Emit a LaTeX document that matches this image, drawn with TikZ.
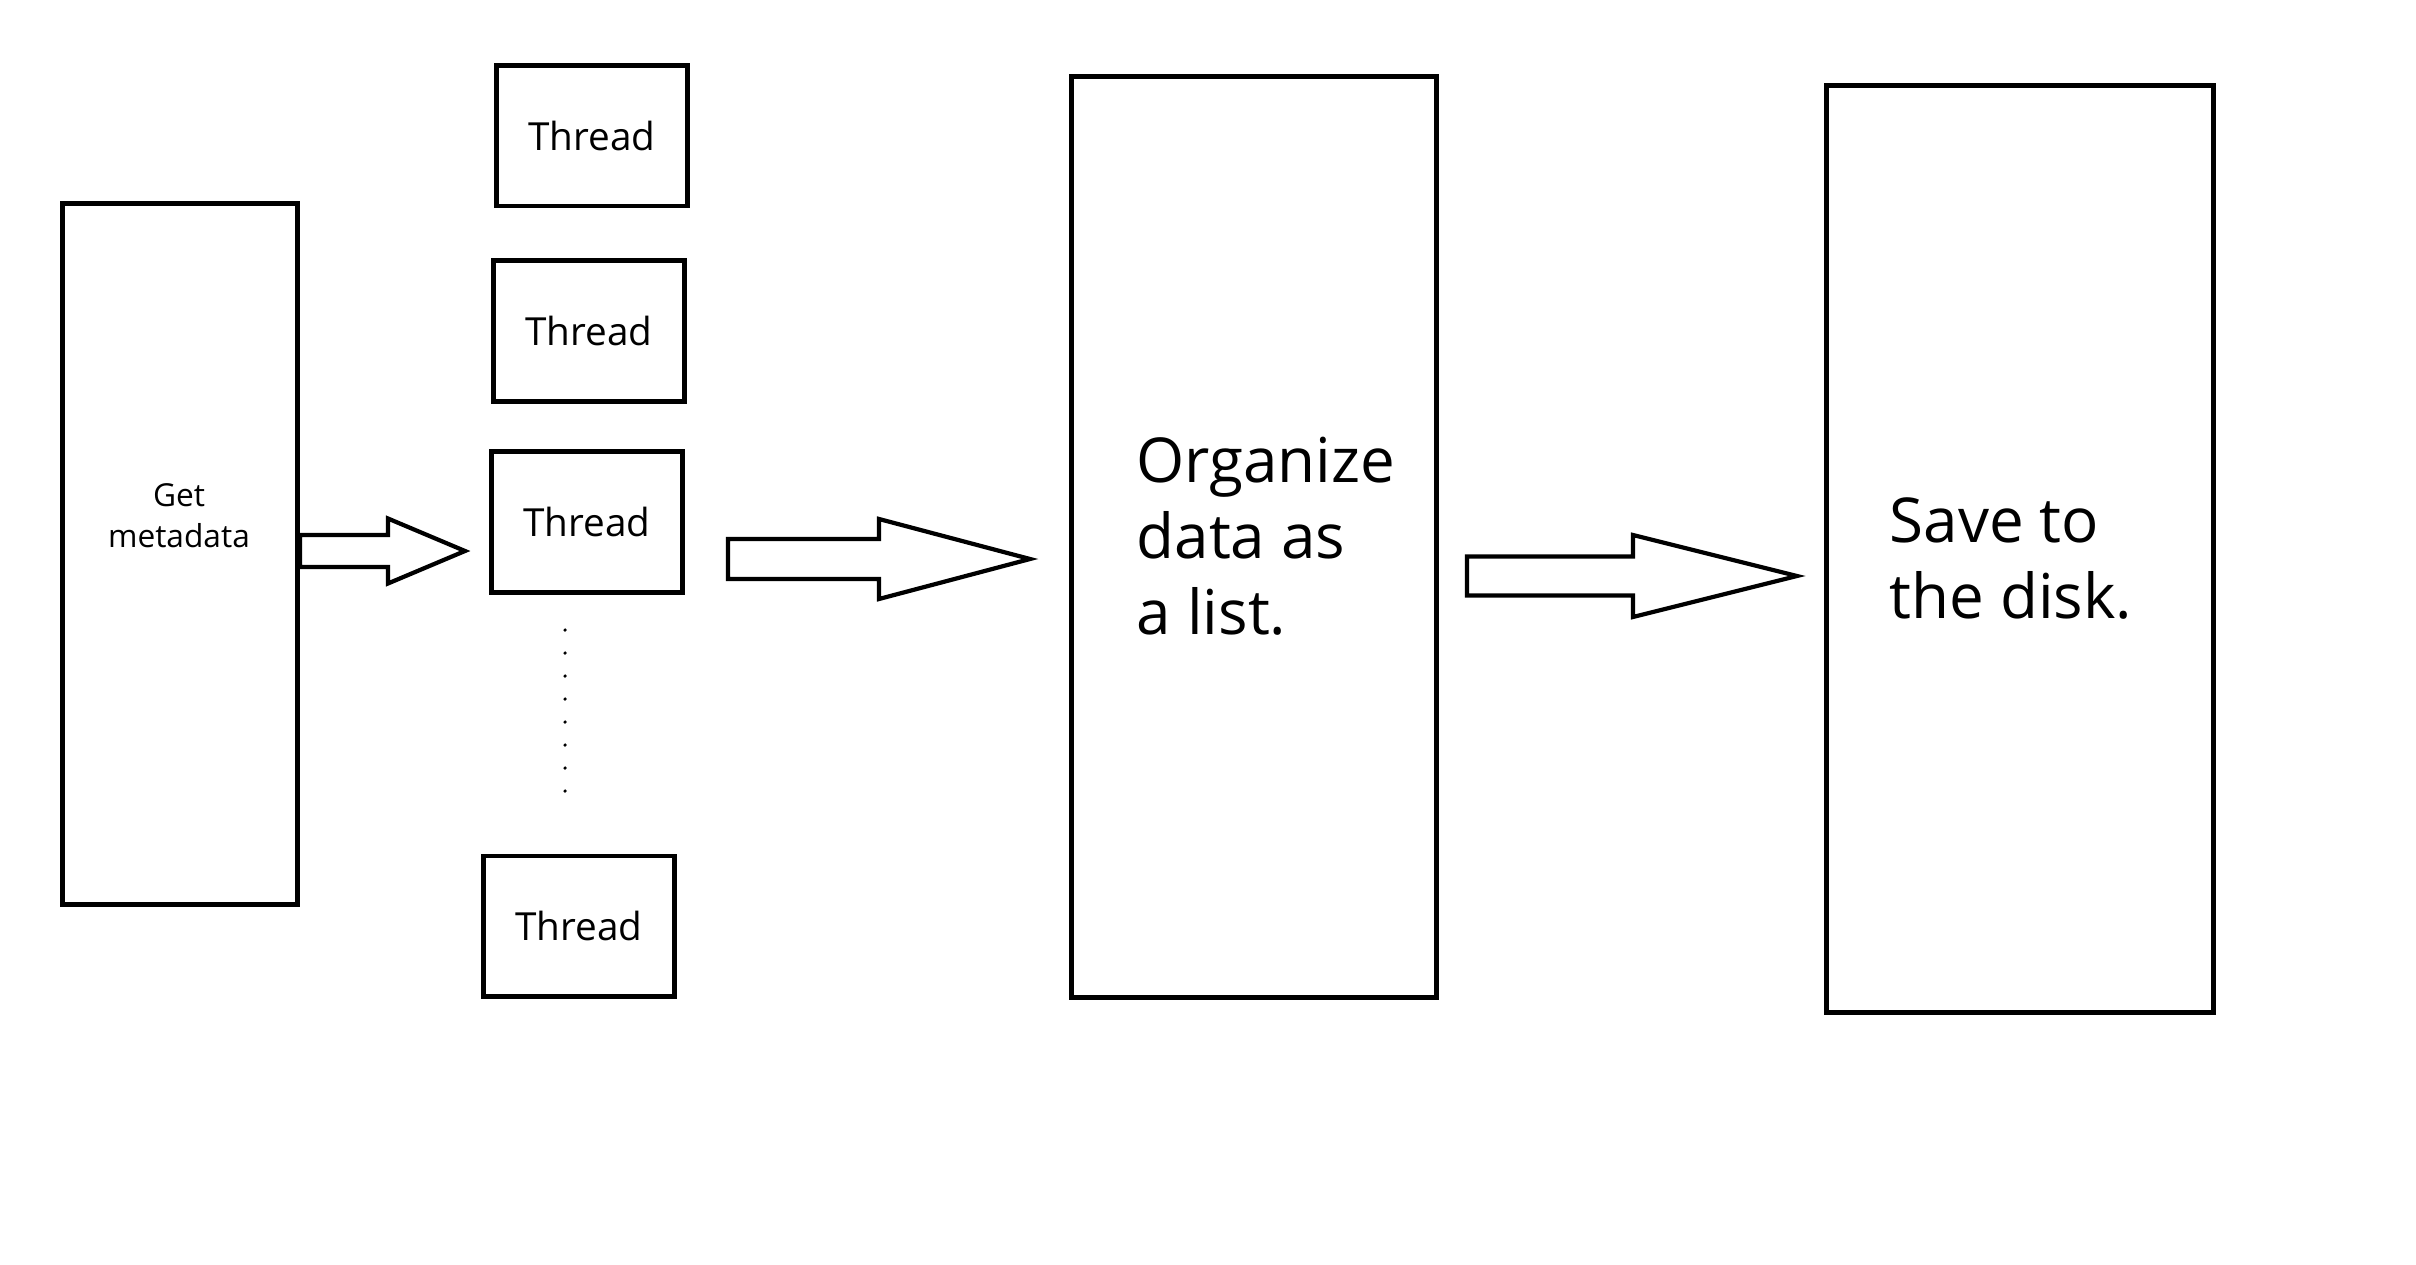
\documentclass[tikz,border=0pt]{standalone}
\usepackage{fontspec}
\setmainfont{Open Sans}
\usetikzlibrary{calc}

\tikzstyle{boxed}=[draw=black, line width=1.4pt, inner sep=0pt]
\tikzstyle{thread}=[boxed, minimum width=1.91cm, minimum height=1.40cm, font=\fontsize{11pt}{13pt}\selectfont]
\tikzstyle{bigtext}=[inner sep=0pt, align=left, font=\fontsize{17.6pt}{21.6pt}\selectfont]
\tikzstyle{fat}=[draw=black, fill=white, line width=1.2pt, line join=miter]
\newcommand{\fatarrow}[5]{
	\coordinate (mid) at ($(#1)!#3!(#2)$);
	\draw[fat]
	($(#1)	+ (0,-#4)$) --
	($(mid)	+ (0,-#4)$) --
	($(mid)	+ (0,-#5)$) --
	(#2) --
	($(mid)	+ (0,#5)$) --
	($(mid)	+ (0,#4)$) --
	($(#1)	+ (0,#4)$) -- cycle;
}

\begin{document}
\begin{tikzpicture}[x=0.01cm, y=-0.01cm]
\useasboundingbox (0,0) rectangle (2416,1264);

\node[boxed, minimum width=2.355cm, minimum height=7.01cm] (meta) at (180,554) {};
\node[inner sep=0pt, align=center, anchor=base, font=\fontsize{9pt}{11.4pt}\selectfont] (metatext) at (179,547) {Get\\metadata};

\foreach \n/\x/\y in {1/592/136, 2/589/331, 3/587/522, 4/579/926} {
	\node[thread] (thread\n) at (\x,\y) {Thread};
}
\foreach \i in {0,...,7} {
	\fill (565,{630 + 23*\i}) circle (0.5pt);
}

\node[boxed, minimum width=3.64cm, minimum height=9.20cm] (organize) at (1254,537) {};
\node[bigtext, anchor=base west] (organizetext) at (1136,634) {Organize\\data as\\a list.};

\node[boxed, minimum width=3.86cm, minimum height=9.26cm] (save) at (2020,549) {};
\node[bigtext, anchor=base west] (savetext) at (1889,618) {Save to\\the disk.};

\coordinate (a1s) at (300,551);
\coordinate (a1t) at (465,551);
\coordinate (a2s) at (728,559);
\coordinate (a2t) at (1030,559);
\coordinate (a3s) at (1467,576);
\coordinate (a3t) at (1797,576);
\fatarrow{a1s}{a1t}{0.533}{16}{32.5}
\fatarrow{a2s}{a2t}{0.5}{20}{40}
\fatarrow{a3s}{a3t}{0.503}{19.5}{41}
\end{tikzpicture}
\end{document}
